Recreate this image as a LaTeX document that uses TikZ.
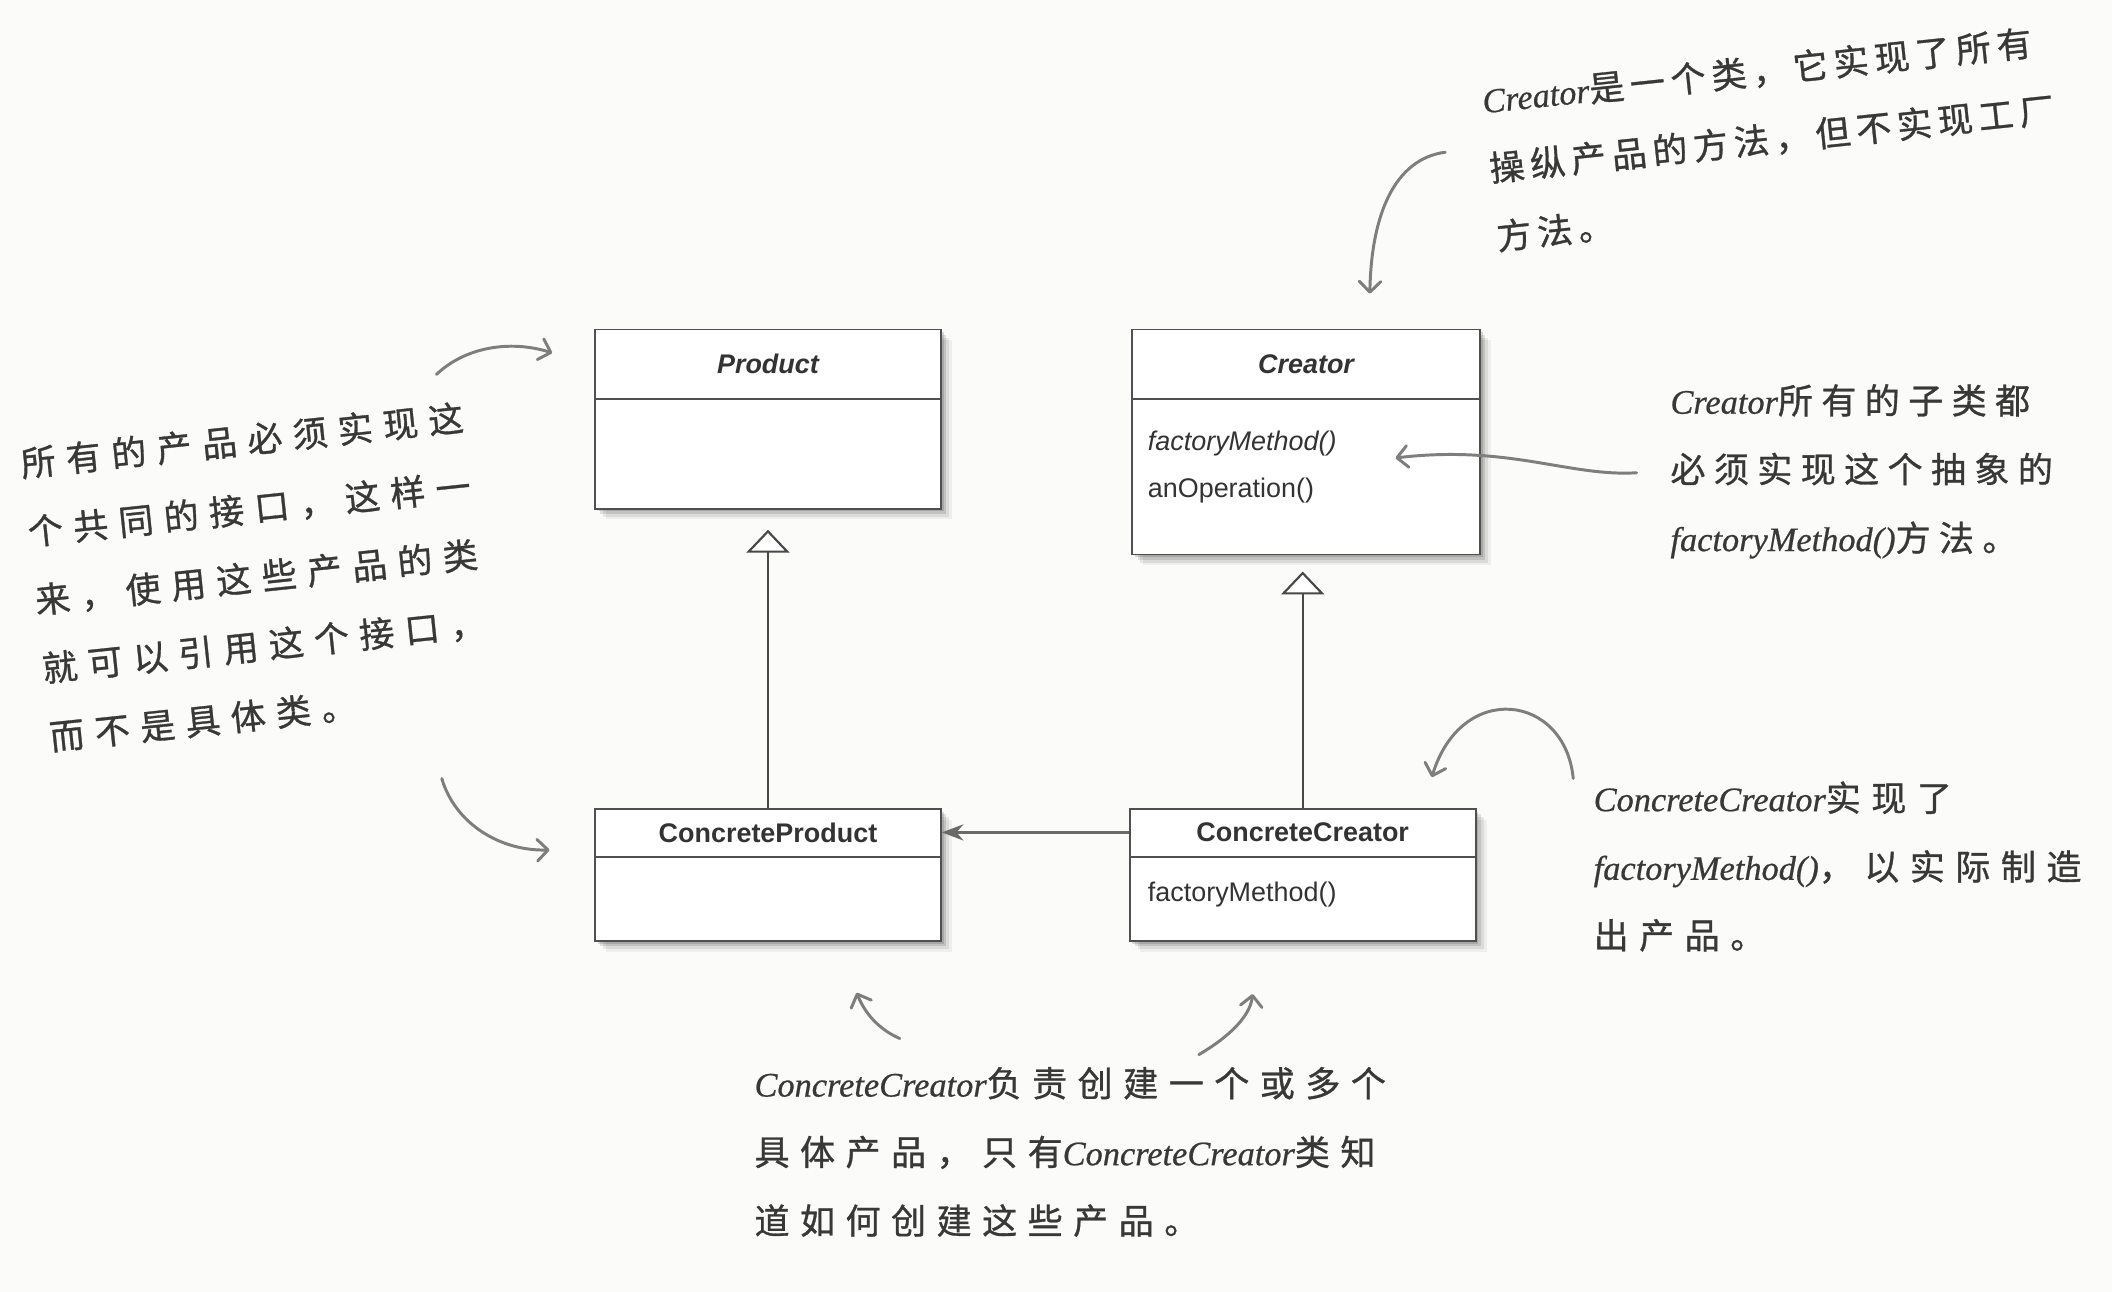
\documentclass[tikz,border=0pt]{standalone}
\usepackage{fontspec}
\setmainfont{Liberation Sans}
\newfontfamily\cjkfontw[LetterSpace=30,FakeBold=0.9]{Noto Sans CJK SC}
\newfontfamily\cjkfont[LetterSpace=24,FakeBold=0.9]{Noto Sans CJK SC}
\newfontfamily\cjkfontn[LetterSpace=17,FakeBold=0.9]{Noto Sans CJK SC}
\newfontfamily\hwlatfont[FakeBold=0.6]{Liberation Serif}
\usetikzlibrary{arrows.meta,shadows,calc}
\definecolor{boxline}{HTML}{505050}
\definecolor{boxtext}{HTML}{333333}
\definecolor{handink}{HTML}{383838}
\definecolor{handarrow}{HTML}{7E7E7E}
\definecolor{paper}{HTML}{FBFBFA}
\newcommand\hwl[1]{{\hwlatfont\itshape\fontsize{25.5}{51}\selectfont #1}}
\tikzset{
  umlbox/.style={draw=boxline, line width=1.3pt, fill=white, anchor=north west,
    inner sep=0pt, minimum width=257pt,
    drop shadow={shadow xshift=2pt,shadow yshift=-2pt,opacity=.14,fill=black},
    drop shadow={shadow xshift=4pt,shadow yshift=-4pt,opacity=.11,fill=black},
    drop shadow={shadow xshift=6pt,shadow yshift=-6pt,opacity=.08,fill=black},
    drop shadow={shadow xshift=8pt,shadow yshift=-8pt,opacity=.05,fill=black}},
  clstitle/.style={anchor=north, inner sep=0pt, text=boxtext,
    font=\fontsize{20}{24}\selectfont\bfseries},
  clsmethod/.style={anchor=west, inner sep=0pt, text=boxtext,
    font=\fontsize{20}{24}\selectfont},
  divider/.style={draw=boxline, line width=1.3pt},
  genline/.style={draw=boxline!90!black, line width=1.6pt,
    -{Triangle[open,width=32pt,length=17pt,fill=white]}},
  assocline/.style={draw=boxline!85, line width=1.8pt,
    -{Stealth[length=16pt,width=12pt]}},
  handnote/.style={anchor=north west, align=left, inner sep=0pt, text=handink,
    font=\cjkfontw\fontsize{26}{51}\selectfont},
  handarrow/.style={draw=handarrow, line width=2.2pt, line cap=round,
    -{Straight Barb[length=8pt,width=16pt,round]}}
}
\begin{document}
\begin{tikzpicture}[x=1pt,y=-1pt]
\fill[paper] (0,0) rectangle (1568,959);
\path[use as bounding box] (0,0) rectangle (1568,959);

% ---- classes ----
\node[umlbox, minimum height=133pt] (p) at (441,244) {};
\node[clstitle, minimum height=52pt, font=\fontsize{20}{24}\selectfont\bfseries\itshape] (pt) at (p.north) {Product};
\draw[divider] ([yshift=-52pt]p.north west) -- ([yshift=-52pt]p.north east);

\node[umlbox, minimum width=258pt, minimum height=167pt] (c) at (840,244) {};
\node[clstitle, minimum height=52pt, font=\fontsize{20}{24}\selectfont\bfseries\itshape] (ct) at (c.north) {Creator};
\draw[divider] ([yshift=-52pt]c.north west) -- ([yshift=-52pt]c.north east);
\node[clsmethod, font=\fontsize{20}{24}\selectfont\itshape] (cm1) at ([xshift=12pt,yshift=-85pt]c.north west) {factoryMethod()};
\node[clsmethod] (cm2) at ([xshift=12pt,yshift=-120pt]c.north west) {anOperation()};

\node[umlbox, minimum height=98pt] (cp) at (441,600) {};
\node[clstitle, minimum height=36pt] (cpt) at (cp.north) {ConcreteProduct};
\draw[divider] ([yshift=-36pt]cp.north west) -- ([yshift=-36pt]cp.north east);

\node[umlbox, minimum height=98pt] (cc) at (838,600) {};
\node[clstitle, minimum height=36pt] (cct) at (cc.north) {ConcreteCreator};
\draw[divider] ([yshift=-36pt]cc.north west) -- ([yshift=-36pt]cc.north east);
\node[clsmethod] (ccm) at ([xshift=14pt,yshift=-64pt]cc.north west) {factoryMethod()};

% ---- relations ----
\draw[genline, shorten >=15pt] (cp.north) -- (cp.north |- p.south);
\draw[genline, shorten >=12pt] (cc.north) -- (cc.north |- c.south);
\draw[assocline] ([yshift=-18pt]cc.north west) -- ([yshift=-18pt]cp.north east);

% ---- handwritten notes ----
\node[handnote, rotate=6] (n1) at (14,332)
  {所有的产品必须实现这\\个共同的接口，这样一\\来，使用这些产品的类\\就可以引用这个接口，\\而不是具体类。};
\node[handnote, rotate=6, font=\cjkfontn\fontsize{26}{51}\selectfont] (n2) at (1099,62)
  {\hwl{Creator}是一个类，它实现了所有\\操纵产品的方法，但不实现工厂\\方法。};
\node[handnote, font=\cjkfont\fontsize{26}{51}\selectfont] (n3) at (1240,285)
  {\hwl{Creator}所有的子类都\\必须实现这个抽象的\\\hwl{factoryMethod()}方法。};
\node[handnote] (n4) at (1183,580)
  {\hwl{ConcreteCreator}实现了\\\hwl{factoryMethod()}，以实际制造\\出产品。};
\node[handnote] (n5) at (560,792)
  {\hwl{ConcreteCreator}负责创建一个或多个\\具体产品，只有\hwl{ConcreteCreator}类知\\道如何创建这些产品。};

% ---- handwritten arrows ----
\coordinate (a1s) at (324,278);  \coordinate (a1e) at (410,262);
\coordinate (a2s) at (328,578);  \coordinate (a2e) at (408,631);
\coordinate (a3s) at (1073,113); \coordinate (a3e) at (1017,218);
\coordinate (a4s) at (1215,351); \coordinate (a4e) at (1036,340);
\coordinate (a5s) at (1168,578); \coordinate (a5e) at (1063,577);
\coordinate (a6s) at (668,771);  \coordinate (a6e) at (636,737);
\coordinate (a7s) at (890,783);  \coordinate (a7e) at (930,738);
\draw[handarrow] (a1s) .. controls (345,258) and (378,252) .. (a1e);
\draw[handarrow] (a2s) .. controls (338,612) and (372,632) .. (a2e);
\draw[handarrow] (a3s) .. controls (1035,118) and (1018,160) .. (a3e);
\draw[handarrow] (a4s) .. controls (1165,354) and (1120,330) .. (a4e);
\draw[handarrow] (a5s) .. controls (1162,515) and (1085,505) .. (a5e);
\draw[handarrow] (a6s) .. controls (652,764) and (642,752) .. (a6e);
\draw[handarrow] (a7s) .. controls (912,770) and (928,755) .. (a7e);
\end{tikzpicture}
\end{document}
